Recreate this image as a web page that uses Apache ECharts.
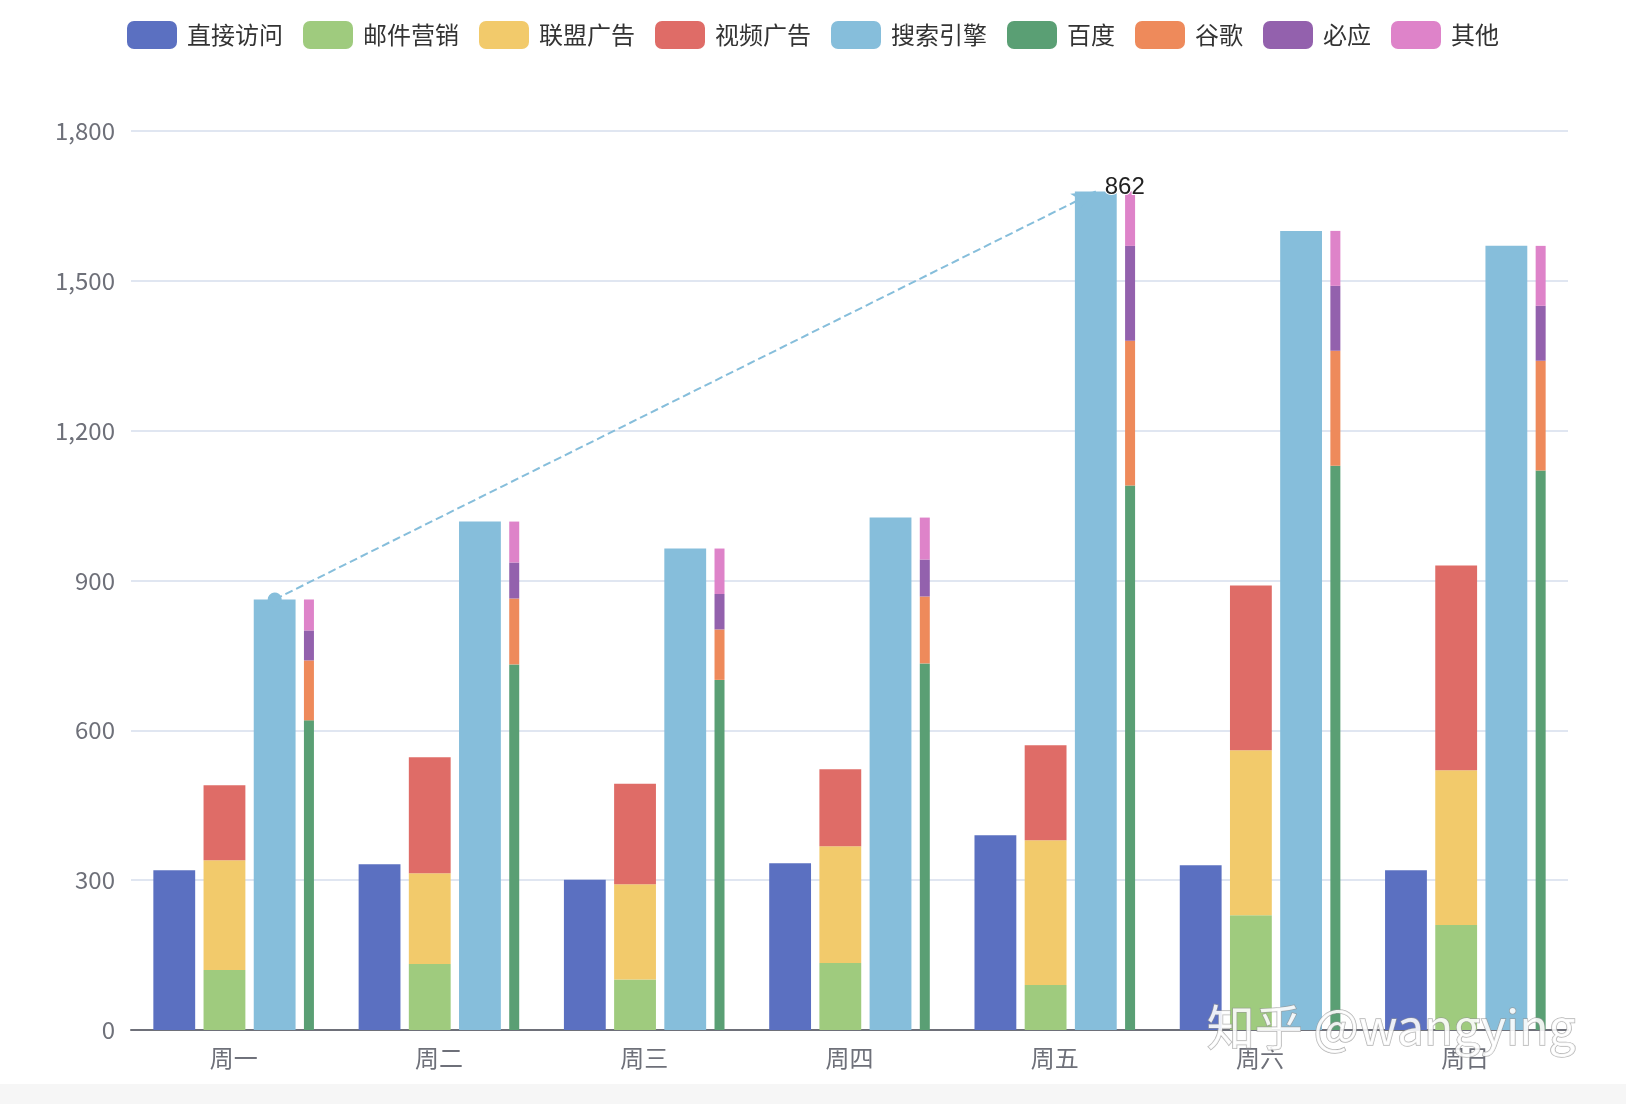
<!DOCTYPE html>
<html><head><meta charset="utf-8">
<script src="https://cdn.jsdelivr.net/npm/echarts@6/dist/echarts.min.js"></script>
<style>html,body{margin:0;padding:0;background:#fff}#c{width:1626px;height:1104px}</style>
</head><body><div id="c"></div>
<script>
const categories = ['周一','周二','周三','周四','周五','周六','周日'];
const seriesNames = ['直接访问','邮件营销','联盟广告','视频广告','搜索引擎','百度','谷歌','必应','其他'];
const direct = [320, 332, 301, 334, 390, 330, 320];
const email = [120, 132, 101, 134, 90, 230, 210];
const union = [220, 182, 191, 234, 290, 330, 310];
const video = [150, 232, 201, 154, 190, 330, 410];
const search = [862, 1018, 964, 1026, 1679, 1600, 1570];
const baidu = [620, 732, 701, 734, 1090, 1130, 1120];
const google = [120, 132, 101, 134, 290, 230, 220];
const bing = [60, 72, 71, 74, 190, 130, 110];
const others = [62, 82, 91, 84, 109, 110, 120];
const yTicks = {min: 0, max: 1800, interval: 300};

const colors = ['#5b70c1','#9fcb7e','#f2ca6b','#df6c67','#86bedb','#5a9f74','#ee8a5b','#9361ad','#de83c9'];
const FONT = '"Noto Sans CJK SC", "Noto Sans", sans-serif';
const chart = echarts.init(document.getElementById('c'));
chart.setOption({
  animation: false,
  color: colors,
  textStyle: {fontFamily: FONT},
  legend: {
    top: 16, left: 'center', itemWidth: 50, itemHeight: 28, itemGap: 20,
    icon: 'roundRect',
    textStyle: {fontSize: 24, color: '#333', padding: [0,0,0,5]},
    data: seriesNames
  },
  grid: {left: 131, right: 58, top: 131, bottom: 74},
  xAxis: {
    type: 'category', data: categories,
    axisLine: {lineStyle: {color: '#6e7079', width: 2}},
    axisTick: {length: 10, lineStyle: {width: 2}},
    axisLabel: {fontSize: 24, color: '#6e7079', margin: 16}
  },
  yAxis: {
    type: 'value', min: yTicks.min, max: yTicks.max, interval: yTicks.interval,
    axisLabel: {fontSize: 24, color: '#6e7079', margin: 16},
    splitLine: {lineStyle: {color: '#e0e6f1', width: 2}}
  },
  series: [
    {name: seriesNames[0], type: 'bar', barGap: '20%', barCategoryGap: '20%', data: direct},
    {name: seriesNames[1], type: 'bar', stack: 'ad', data: email},
    {name: seriesNames[2], type: 'bar', stack: 'ad', data: union},
    {name: seriesNames[3], type: 'bar', stack: 'ad', data: video},
    {name: seriesNames[4], type: 'bar', data: search,
      markLine: {
        symbolSize: [14, 24],
        lineStyle: {type: 'dashed', width: 2},
        label: {fontSize: 24, color: '#222', fontFamily: 'Liberation Sans, Arial, sans-serif', textBorderColor: '#fff', textBorderWidth: 2, distance: 10},
        data: [[{type: 'min'}, {type: 'max'}]]
      }},
    {name: seriesNames[5], type: 'bar', barWidth: 10, stack: 'se', data: baidu},
    {name: seriesNames[6], type: 'bar', stack: 'se', data: google},
    {name: seriesNames[7], type: 'bar', stack: 'se', data: bing},
    {name: seriesNames[8], type: 'bar', stack: 'se', data: others}
  ],
  graphic: [
    {type: 'rect', left: 0, top: 1084, shape: {width: 1626, height: 20}, style: {fill: '#f6f6f6'}, silent: true},
    {type: 'text', left: 1206, top: 1002, z: 100, silent: true,
      style: {text: '知乎 @wangying', font: '48px "Noto Sans CJK SC", sans-serif', fill: 'rgba(255,255,255,0.88)', stroke: 'rgba(150,150,150,0.7)', lineWidth: 1.5}}
  ]
});
</script></body></html>
